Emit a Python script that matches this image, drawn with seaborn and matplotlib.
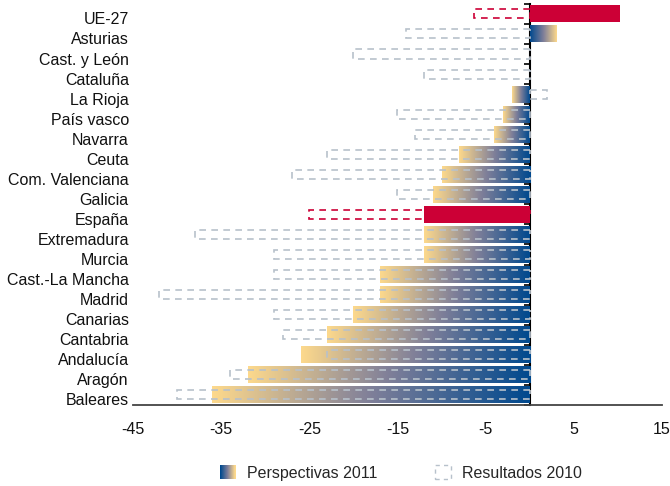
import numpy as np
import matplotlib
matplotlib.use("Agg")
import matplotlib.pyplot as plt
import matplotlib.transforms as mtransforms
from matplotlib.colors import LinearSegmentedColormap
from matplotlib.patches import Rectangle
from matplotlib.legend_handler import HandlerBase
import seaborn as sns

regiones = ["UE-27", "Asturias", "Cast. y León", "Cataluña", "La Rioja",
            "País vasco", "Navarra", "Ceuta", "Com. Valenciana", "Galicia",
            "España", "Extremadura", "Murcia", "Cast.-La Mancha", "Madrid",
            "Canarias", "Cantabria", "Andalucía", "Aragón", "Baleares"]
perspectivas_2011 = [10.2, 3, 0, 0, -2, -3, -4, -8, -10, -11,
                     -12, -12, -12, -17, -17, -20, -23, -26, -32, -36]
resultados_2010 = [-6.3, -14, -20, -12, 2, -15, -13, -23, -27, -15,
                   -25, -38, -29, -29, -42, -29, -28, -23, -34, -40]
destacados = ["UE-27", "España"]
ticks_x = [-45, -35, -25, -15, -5, 5, 15]

ROJO = "#cc0036"
GRIS = "#b7c1cb"
degradado = LinearSegmentedColormap.from_list(
    "persp", [(0, "#00498e"), (0.5, "#7f7f99"), (1, "#fdd98c")])

sns.set_style("white")
plt.rcParams["font.family"] = ["Liberation Sans", "DejaVu Sans"]
plt.rcParams["font.size"] = 11.5

fig = plt.figure(figsize=(6.7, 4.86), dpi=100)
ax = fig.add_axes([0.1985, 0.167, 0.7895, 0.825])

# barras 2011 (rojo para UE-27 y España, degradado el resto)
pal1 = {r: (ROJO if r in destacados else "white") for r in regiones}
sns.barplot(x=perspectivas_2011, y=regiones, hue=regiones, palette=pal1,
            orient="h", width=0.85, saturation=1, linewidth=0,
            legend=False, ax=ax)

grad = np.linspace(0, 1, 256).reshape(1, -1)
for p in list(ax.patches):
    idx = int(round(p.get_y() + p.get_height() / 2))
    if regiones[idx] in destacados or p.get_width() == 0:
        continue
    x0 = p.get_x()
    x1 = x0 + p.get_width()
    datos = grad if x1 > x0 else grad[:, ::-1]
    p.set_facecolor("none")
    im = ax.imshow(datos, cmap=degradado, aspect="auto", zorder=1.5,
                   extent=(min(x0, x1), max(x0, x1),
                           p.get_y() + p.get_height(), p.get_y()))
    im.set_clip_path(p)

# resultados 2010: contorno discontinuo
pal2 = {r: (ROJO if r in destacados else GRIS) for r in regiones}
sns.barplot(x=resultados_2010, y=regiones, hue=regiones, palette=pal2,
            orient="h", width=0.45, fill=False, saturation=1,
            linewidth=1.2, linestyle=(0, (4, 3.2)), zorder=4,
            legend=False, ax=ax)

ax.set_xlim(-45, 15)
ax.set_ylim(19.5, -0.5)
ax.set_xticks(ticks_x)
ax.set_xticklabels([str(t) for t in ticks_x])
ax.set_xlabel("")
ax.set_ylabel("")
for s in ["top", "right", "left"]:
    ax.spines[s].set_visible(False)
ax.spines["bottom"].set_color("#444444")
ax.spines["bottom"].set_linewidth(1.3)
ax.tick_params(axis="x", length=3, width=1, color="#444444", pad=9,
               labelcolor="#111111")
ax.tick_params(axis="y", length=0, pad=3, labelcolor="#111111")

# las etiquetas de las regiones van un poco más abajo que la barra
bajar = mtransforms.ScaledTranslation(0, -4.5 / 100, fig.dpi_scale_trans)
for lab in ax.get_yticklabels():
    lab.set_transform(lab.get_transform() + bajar)

# eje vertical en cero con marcas entre categorías
sec = ax.secondary_yaxis(0, transform=ax.transData)
sec.set_yticks(np.arange(-0.5, 20, 1))
sec.set_yticklabels([])
sec.tick_params(length=4, width=1.2, color="black")
sec.spines["left"].set_linewidth(1.5)
sec.spines["left"].set_color("black")


class GradienteHandler(HandlerBase):
    def create_artists(self, legend, orig_handle, xdescent, ydescent,
                       width, height, fontsize, trans):
        n = 30
        arts = []
        for i in range(n):
            arts.append(Rectangle((-xdescent + i * width / n, -ydescent),
                                  width / n * 1.05, height,
                                  facecolor=degradado(i / (n - 1)),
                                  edgecolor="none", transform=trans))
        return arts


h1 = Rectangle((0, 0), 1, 1)
h2 = Rectangle((0, 0), 1, 1, facecolor="none", edgecolor=GRIS,
               linestyle=(0, (3, 3)), linewidth=1)
fig.legend([h1, h2], ["Perspectivas 2011", "Resultados 2010"],
           handler_map={h1: GradienteHandler()},
           loc="center", bbox_to_anchor=(0.599, 0.027), ncol=2,
           frameon=False, handlelength=0.95, handleheight=1.0,
           handletextpad=0.75, columnspacing=3.6, fontsize=11.5)

fig.savefig("out.png", dpi=100)
